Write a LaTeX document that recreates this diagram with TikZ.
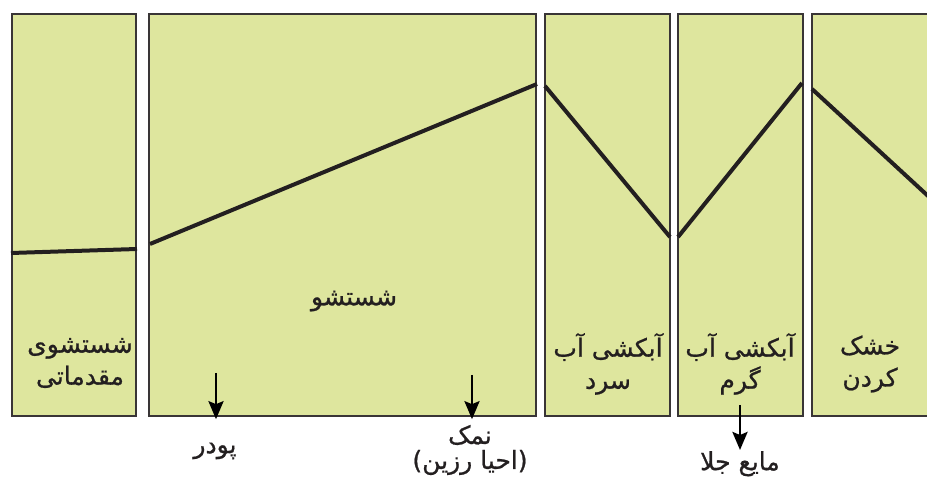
\documentclass[tikz,border=0pt]{standalone}
\usepackage{fontspec}
\usepackage{tikz}
\usetikzlibrary{arrows.meta}
\TeXXeTstate=1
\newfontfamily\arabicfont[Script=Arabic,FakeBold=0.8]{DejaVu Sans}
\definecolor{panelfill}{RGB}{222,230,158}
\definecolor{inkdark}{RGB}{35,31,32}

\begin{document}
\begin{tikzpicture}[x=1pt,y=-1pt,>=Latex,
  panel/.style={draw=inkdark!90,line width=2.4pt,fill=panelfill,minimum height=402pt,inner sep=0pt},
  trend/.style={draw=inkdark,line width=4pt},
  feed/.style={draw=black,line width=2.8pt,-{Stealth[length=18pt,width=15pt,inset=3pt]}},
  lbl/.style={font=\arabicfont\fontsize{25}{32}\selectfont,align=center,inner sep=1pt,text=inkdark}]
\useasboundingbox (0,0) rectangle (927,478);
\clip (0,0) rectangle (927,478);
% stages
\node[panel,minimum width=124pt] (p_pre) at (74,215) {};
\node[panel,minimum width=387pt] (p_wash) at (342.5,215) {};
\node[panel,minimum width=125pt] (p_cold) at (607.5,215) {};
\node[panel,minimum width=125pt] (p_hot) at (740.5,215) {};
\node[panel,minimum width=150pt] (p_dry) at (887,215) {};
% profile
\draw[trend] (11,253) -- (137,249);
\draw[trend] (150,244) -- (537,84);
\draw[trend] (545,86) -- (670,237);
\draw[trend] (678,237) -- (802,83);
\draw[trend] (812,89) -- (940,207);
% stage names
\node[lbl] (t_pre) at (80,363) {\beginR شستشوی\endR\\\beginR مقدماتی\endR};
\node[lbl] (t_wash) at (354,301) {\beginR شستشو\endR};
\node[lbl] (t_cold) at (608,364) {\beginR آبکشی آب\endR\\\beginR سرد\endR};
\node[lbl] (t_hot) at (740,364) {\beginR آبکشی آب\endR\\\beginR گرم\endR};
\node[lbl] (t_dry) at (870,364) {\beginR خشک\endR\\\beginR کردن\endR};
% inputs and outputs
\coordinate (powder_in) at (216,373);
\coordinate (salt_in) at (472,375);
\coordinate (rinse_out) at (740,405);
\node[lbl] (powder) at (215,451) {\beginR پودر\endR};
\node[lbl,font=\arabicfont\fontsize{25}{25}\selectfont] (salt) at (470,450) {\beginR نمک\endR\\\beginR (احیا رزین)\endR};
\node[lbl,anchor=north] (rinse_aid) at (740,450) {\beginR مایع جلا\endR};
\draw[feed] (powder_in) -- ([yshift=-2pt]powder_in |- p_wash.south);
\draw[feed] (salt_in) -- ([yshift=-2pt]salt_in |- p_wash.south);
\draw[feed] (rinse_out) -- (rinse_aid.north);
\end{tikzpicture}
\end{document}
